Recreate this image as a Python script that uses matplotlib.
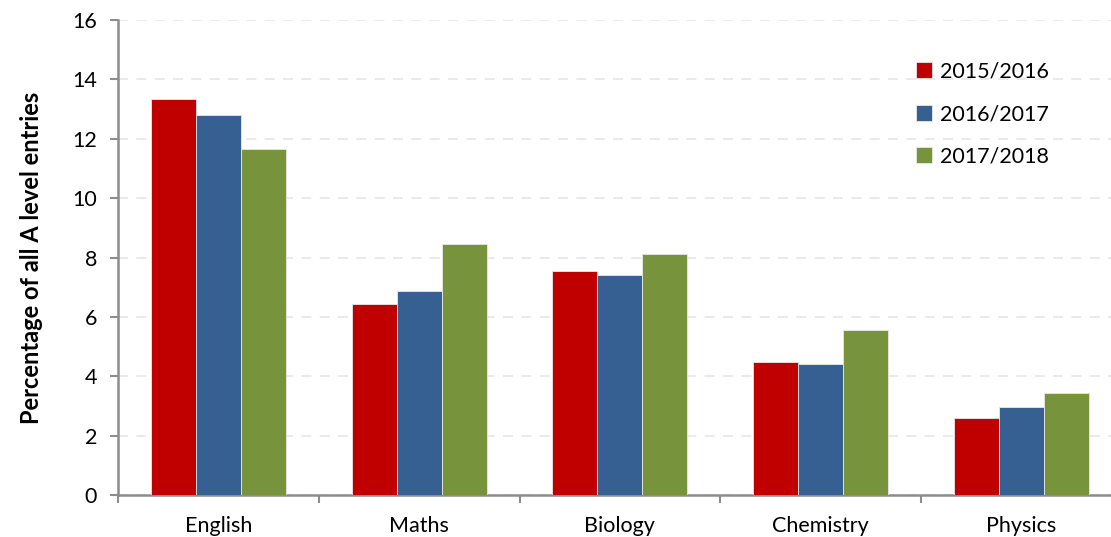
import matplotlib
matplotlib.use("Agg")
import matplotlib.pyplot as plt
import numpy as np

categories = ["English", "Maths", "Biology", "Chemistry", "Physics"]
series_names = ["2015/2016", "2016/2017", "2017/2018"]
v2015 = [13.35, 6.42, 7.55, 4.47, 2.60]
v2016 = [12.80, 6.88, 7.40, 4.42, 2.95]
v2017 = [11.65, 8.45, 8.13, 5.55, 3.43]
colors = ["#C00000", "#376092", "#77933C"]
yticks = [0, 2, 4, 6, 8, 10, 12, 14, 16]

plt.rcParams['font.family'] = ['Lato', 'DejaVu Sans']

fig = plt.figure(figsize=(11.11, 5.37), dpi=100)
W, H = 1111, 537
left, right, top, bottom = 118, 1121.75, 20, 495
ax = fig.add_axes([left / W, 1 - bottom / H, (right - left) / W, (bottom - top) / H])

x = np.arange(len(categories))
bw = 0.224
for i, (vals, c, name) in enumerate(zip([v2015, v2016, v2017], colors, series_names)):
    ax.bar(x + (i - 1) * bw, vals, width=bw, color=c, edgecolor="#e8e8e8", linewidth=0.6,
           label=name, zorder=3)

ax.set_xlim(-0.5, len(categories) - 0.5)
ax.set_ylim(0, 16)
ax.set_yticks(yticks)
ax.set_yticklabels([str(t) for t in yticks], fontsize=15.5)
ax.set_xticks(x)
ax.set_xticklabels(categories, fontsize=15.5)
ax.set_xticks(np.arange(len(categories) + 1) - 0.5, minor=True)
ax.tick_params(axis='x', which='major', length=0, pad=15)
ax.tick_params(axis='x', which='minor', length=6, width=1.5, color="#8c8c8c", direction='out')
ax.tick_params(axis='y', length=6, width=1.5, color="#8c8c8c", direction='out', pad=9)

ax.yaxis.grid(True, linestyle=(0, (6, 5)), color="#e6e6e6", linewidth=1.2, zorder=0)
ax.set_axisbelow(True)
for s in ["top", "right"]:
    ax.spines[s].set_visible(False)
for s in ["left", "bottom"]:
    ax.spines[s].set_color("#8c8c8c")
    ax.spines[s].set_linewidth(1.8)

ax.set_ylabel("Percentage of all A level entries", fontsize=17, fontweight='bold', labelpad=21)

leg = ax.legend(loc='upper left', bbox_to_anchor=((907 - left) / (right - left), 1 - (53 - top) / (bottom - top)),
                frameon=False, fontsize=15.5, handlelength=0.75, handleheight=0.75,
                labelspacing=1.05, handletextpad=0.4, borderaxespad=0)

fig.savefig("out.png", dpi=100)
